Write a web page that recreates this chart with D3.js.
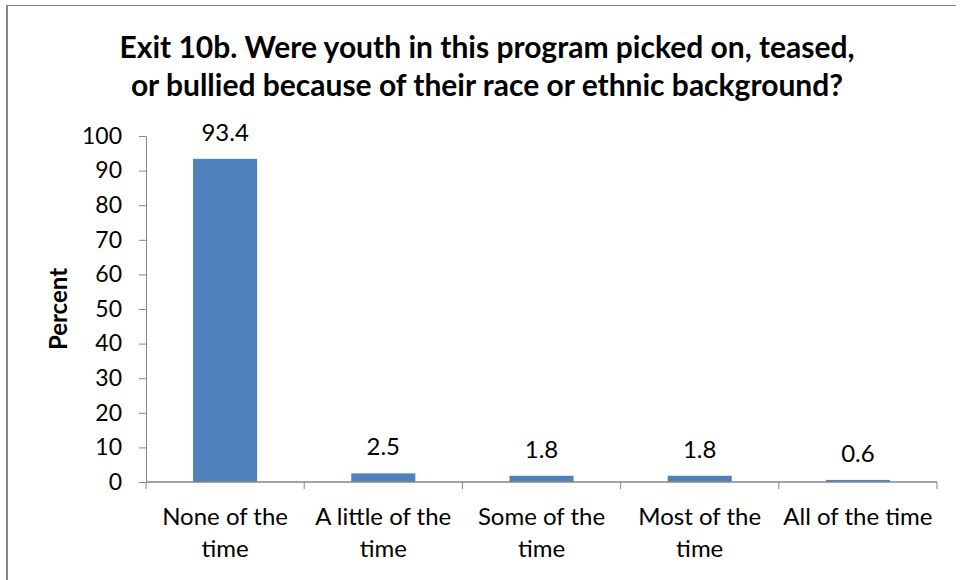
<!DOCTYPE html>
<html>
<head>
<meta charset="utf-8">
<script src="https://cdn.jsdelivr.net/npm/d3@7"></script>
<style>
  html, body { margin: 0; padding: 0; background: #fff; }
  svg { display: block; font-family: Lato, "Open Sans", sans-serif; }
</style>
</head>
<body>
<svg id="chart" width="965" height="580"></svg>
<script>
const categories = ["None of the time", "A little of the time", "Some of the time", "Most of the time", "All of the time"];
const categoryLines = [["None of the", "time"], ["A little of the", "time"], ["Some of the", "time"], ["Most of the", "time"], ["All of the time"]];
const values = [93.4, 2.5, 1.8, 1.8, 0.6];
const yTicks = [0, 10, 20, 30, 40, 50, 60, 70, 80, 90, 100];
const titleLines = ["Exit 10b. Were youth in this program picked on, teased,", "or bullied because of their race or ethnic background?"];
const yLabel = "Percent";

const svg = d3.select("#chart");
const margin = { left: 146, right: 28, top: 136, bottom: 98 };
const W = 965, H = 580;

// frame
svg.append("line").attr("x1", 6).attr("x2", 956).attr("y1", 5.5).attr("y2", 5.5)
  .attr("stroke", "#868686").attr("stroke-width", 1);
svg.append("line").attr("x1", 7).attr("x2", 7).attr("y1", 5).attr("y2", 580)
  .attr("stroke", "#868686").attr("stroke-width", 2);

const x = d3.scaleBand().domain(categories).range([margin.left, W - margin.right])
  .paddingInner(0.595).paddingOuter(0.2975);
const y = d3.scaleLinear().domain([0, 100]).range([H - margin.bottom, margin.top]);

// bars
svg.append("g").selectAll("rect").data(values).join("rect")
  .attr("x", (d, i) => x(categories[i]))
  .attr("width", x.bandwidth())
  .attr("y", d => y(d))
  .attr("height", d => y(0) - y(d))
  .attr("fill", "#4F81BD");

// y axis
const yAxis = svg.append("g").attr("transform", `translate(${margin.left},0)`)
  .call(d3.axisLeft(y).tickValues(yTicks).tickSize(7).tickSizeOuter(0).tickPadding(17));
yAxis.select(".domain").attr("stroke", "#868686");
yAxis.selectAll(".tick line").attr("stroke", "#868686");
yAxis.selectAll(".tick text").attr("font-size", 23).attr("fill", "#000")
  .attr("font-family", "Lato, sans-serif");

// x axis with boundary ticks
const n = categories.length;
const boundaries = d3.range(n + 1).map(i => margin.left + i * ((W - margin.right - margin.left) / n));
const xg = svg.append("g");
xg.append("line").attr("x1", margin.left).attr("x2", W - margin.right)
  .attr("y1", y(0)).attr("y2", y(0)).attr("stroke", "#868686").attr("stroke-width", 1.5);
xg.selectAll("line.tk").data(boundaries).join("line").attr("class", "tk")
  .attr("x1", d => d).attr("x2", d => d).attr("y1", y(0)).attr("y2", y(0) + 7)
  .attr("stroke", "#868686");

// category labels
categoryLines.forEach((lines, i) => {
  const cx = x(categories[i]) + x.bandwidth() / 2;
  lines.forEach((ln, j) => {
    svg.append("text").attr("x", cx).attr("y", y(0) + 43 + j * 32)
      .attr("text-anchor", "middle").attr("font-size", 24).attr("fill", "#000")
      .text(ln);
  });
});

// data labels
svg.append("g").selectAll("text").data(values).join("text")
  .attr("x", (d, i) => x(categories[i]) + x.bandwidth() / 2)
  .attr("y", d => y(d) - 18)
  .attr("text-anchor", "middle").attr("font-size", 24).attr("fill", "#000")
  .text(d => d.toFixed(1));

// title
titleLines.forEach((t, i) => {
  svg.append("text").attr("x", 487).attr("y", 58 + i * 38)
    .attr("text-anchor", "middle").attr("font-size", 30).attr("font-weight", "bold")
    .attr("fill", "#000").text(t);
});

// y label
svg.append("text").attr("transform", `translate(67,${(y(0) + y(100)) / 2}) rotate(-90)`)
  .attr("text-anchor", "middle").attr("font-size", 24).attr("font-weight", "bold")
  .attr("fill", "#000").text(yLabel);
</script>
</body>
</html>
